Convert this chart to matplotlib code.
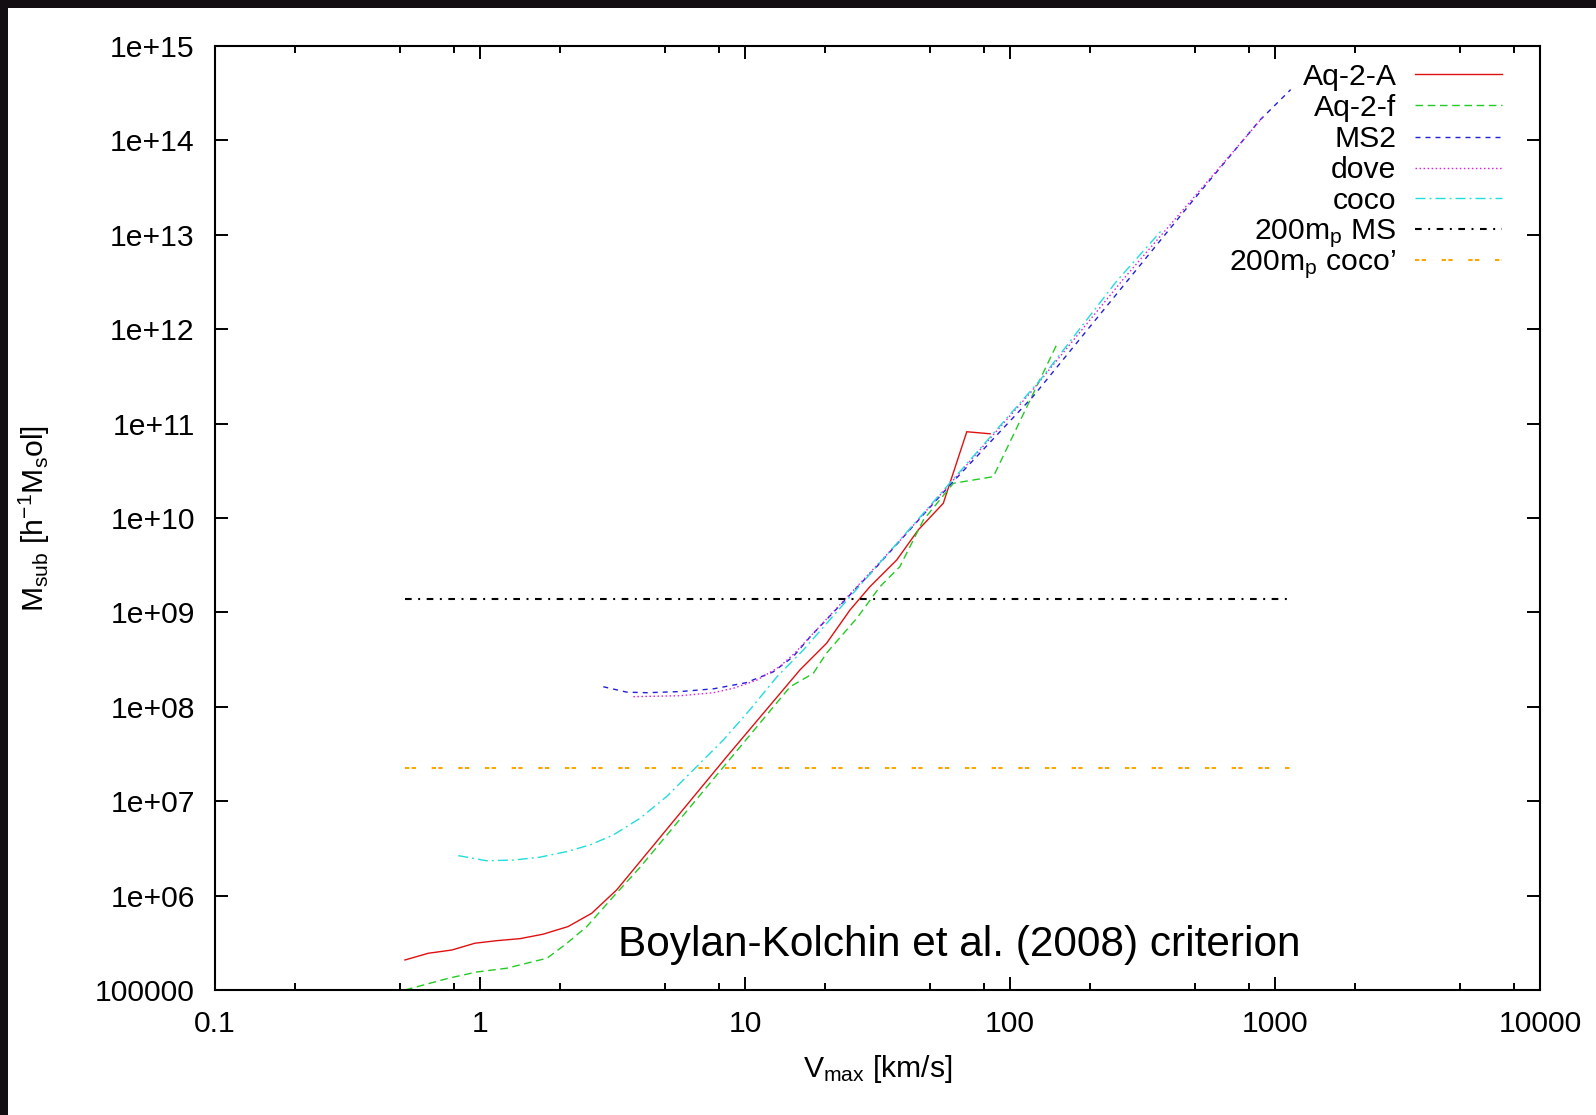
import matplotlib
matplotlib.use('Agg')
import matplotlib.pyplot as plt
from matplotlib.patches import Rectangle
from matplotlib.ticker import FixedLocator, FixedFormatter, NullFormatter, NullLocator

plt.rcParams['font.family'] = ['Liberation Sans', 'DejaVu Sans']
plt.rcParams['mathtext.fontset'] = 'custom'
plt.rcParams['mathtext.rm'] = 'Liberation Sans'
plt.rcParams['mathtext.it'] = 'Liberation Sans'
plt.rcParams['lines.scale_dashes'] = False

# ---------------- data ----------------
aq2A_v = [0.521, 0.638, 0.782, 0.957, 1.156, 1.416, 1.73, 2.15, 2.64, 3.28, 8.53, 16.1,
          20.3, 24.9, 29.6, 37.4, 45.1, 56.0, 68.7, 84.1]
aq2A_m = [2.08e5, 2.45e5, 2.65e5, 3.13e5, 3.33e5, 3.5e5, 3.9e5, 4.7e5, 6.5e5, 1.15e6, 2.96e7, 2.45e8,
          4.7e8, 1.06e9, 1.87e9, 3.6e9, 7.5e9, 1.43e10, 8.2e10, 7.8e10]

aq2f_v = [0.521, 0.759, 0.97, 1.26, 1.59, 1.79, 2.12, 2.53, 3.18, 4.02, 14.8, 18.1, 20.3,
          26.4, 32.3, 38.4, 47.1, 61.1, 86.5, 152]
aq2f_m = [1.0e5, 1.33e5, 1.55e5, 1.7e5, 2.0e5, 2.17e5, 3.1e5, 4.7e5, 9.7e5, 2.0e6, 1.63e8, 2.26e8, 3.7e8,
          8.65e8, 1.87e9, 3.05e9, 9.5e9, 2.33e10, 2.74e10, 7.4e11]

ms2_v = [2.92, 3.58, 4.26, 5.69, 7.60, 10.1, 12.8, 15.2, 17.6, 31.4, 59.4, 122, 492, 877, 1146]
ms2_m = [1.63e8, 1.43e8, 1.41e8, 1.45e8, 1.55e8, 1.8e8, 2.35e8, 3.4e8, 5.5e8, 3.05e9, 2.24e10,
         1.93e11, 2.34e13, 1.64e14, 3.45e14]

dove_v = [3.79, 5.69, 7.60, 9.03, 11.1, 13.5, 15.4, 38.5, 119, 268, 903]
dove_m = [1.28e8, 1.31e8, 1.41e8, 1.57e8, 1.92e8, 2.66e8, 3.7e8, 5.8e9, 2.1e11, 3.4e12, 1.78e14]

coco_v = [0.828, 1.06, 1.34, 1.68, 2.12, 2.60, 3.18, 4.02, 5.06, 6.38, 8.28, 10.4, 13.2, 16.6,
          57.7, 130, 252, 379]
coco_m = [2.65e6, 2.34e6, 2.38e6, 2.55e6, 2.92e6, 3.44e6, 4.38e6, 6.6e6, 1.12e7, 2.14e7, 4.45e7,
          9.2e7, 2.08e8, 4.0e8, 2.15e10, 2.9e11, 3.2e12, 1.17e13]

limit_v = [0.52, 1150]
mp_ms = 1.37e9
mp_coco = 2.27e7

labels = ['Aq-2-A', 'Aq-2-f', 'MS2', 'dove', 'coco',
          r'200m$_{\mathregular{p}}$ MS', r"200m$_{\mathregular{p}}$ coco’"]

xtick_vals = [0.1, 1, 10, 100, 1000, 10000]
xtick_labels = ['0.1', '1', '10', '100', '1000', '10000']
ytick_vals = [1e5, 1e6, 1e7, 1e8, 1e9, 1e10, 1e11, 1e12, 1e13, 1e14, 1e15]
ytick_labels = ['100000', '1e+06', '1e+07', '1e+08', '1e+09', '1e+10', '1e+11',
                '1e+12', '1e+13', '1e+14', '1e+15']

# ---------------- styles ----------------
styles = [
    dict(color='#e01010', lw=1.0, ls='-'),
    dict(color='#22cc22', lw=1.0, ls=(0, (5.5, 3.3))),
    dict(color='#2020dd', lw=1.0, ls=(0, (3.6, 3.6))),
    dict(color='#dd22dd', lw=1.0, ls=(0, (1.1, 1.8))),
    dict(color='#22dddd', lw=1.0, ls=(0, (7.2, 2.9, 1.4, 2.9))),
    dict(color='black', lw=1.5, ls=(0, (4.8, 4.7, 1.4, 4.7))),
    dict(color='#ffa500', lw=1.5, ls=(0, (3.1, 1.7, 3.1, 11.3))),
]

W, H = 1596, 1115
fig = plt.figure(figsize=(W / 100, H / 100), dpi=100)
fig.patch.set_facecolor('white')
ax = fig.add_axes([215 / W, 1 - 990 / H, 1325 / W, 944 / H])
ax.set_xscale('log')
ax.set_yscale('log')
ax.set_xlim(0.1, 10000)
ax.set_ylim(1e5, 1e15)

series = [(aq2A_v, aq2A_m), (aq2f_v, aq2f_m), (ms2_v, ms2_m), (dove_v, dove_m), (coco_v, coco_m)]
for (v, m), st in zip(series, styles[:5]):
    ax.plot(v, m, **st)
ax.plot(limit_v, [mp_ms, mp_ms], **styles[5])
ax.plot(limit_v, [mp_coco, mp_coco], **styles[6])

# ticks
ax.xaxis.set_major_locator(FixedLocator(xtick_vals))
ax.xaxis.set_major_formatter(FixedFormatter(xtick_labels))
xminor = [m * d for d in [0.1, 1, 10, 100, 1000] for m in (2, 5, 8)]
ax.xaxis.set_minor_locator(FixedLocator(xminor))
ax.xaxis.set_minor_formatter(NullFormatter())
ax.yaxis.set_major_locator(FixedLocator(ytick_vals))
ax.yaxis.set_major_formatter(FixedFormatter(ytick_labels))
ax.yaxis.set_minor_locator(NullLocator())
ax.tick_params(which='both', direction='in', top=True, right=True, width=1.4, colors='black')
ax.tick_params(which='major', length=9.4, pad=14.5, labelsize=21.7)
ax.tick_params(which='minor', length=4.8)
for s in ax.spines.values():
    s.set_linewidth(1.5)

# axis labels
ax.set_xlabel(r'V$_{\mathregular{max}}$ [km/s]', fontsize=21.7)
ax.xaxis.set_label_coords(0.5, -(1077 - 990) / 944)
ax.xaxis.label.set_va('baseline')
ax.set_ylabel(r'M$_{\mathregular{sub}}$ [h$^{\mathregular{-1}}$M$_{\mathregular{s}}$ol]', fontsize=21.7)
ax.yaxis.set_label_coords((44 - 215) / 1325, 0.5)
ax.yaxis.label.set_va('baseline')

# annotation
ax.text((617.8 - 215) / 1325, 1 - (956 - 46) / 944, 'Boylan-Kolchin et al. (2008) criterion',
        transform=ax.transAxes, ha='left', va='baseline', fontsize=30.5)

# legend (key drawn on the right, text right-aligned)
row_y = [74.3, 105.0, 136.7, 167.7, 198.3, 229.0, 260.0]
for lab, st, yp in zip(labels, styles, row_y):
    ya = 1 - (yp - 46) / 944
    ax.plot([(1415 - 215) / 1325, (1502 - 215) / 1325], [ya, ya], transform=ax.transAxes,
            clip_on=False, **st)
    ax.text((1396.5 - 215) / 1325, 1 - (yp + 10.5 - 46) / 944, lab, transform=ax.transAxes,
            ha='right', va='baseline', fontsize=21.7)

# dark frame edges of the original screenshot
fig.patches.append(Rectangle((0, 1 - 7.5 / H), 1, 7.5 / H, transform=fig.transFigure,
                             facecolor='#130e11', edgecolor='none', zorder=10))
fig.patches.append(Rectangle((0, 0), 7.5 / W, 1, transform=fig.transFigure,
                             facecolor='#130e11', edgecolor='none', zorder=10))

fig.savefig('out.png', dpi=100, facecolor='white')
